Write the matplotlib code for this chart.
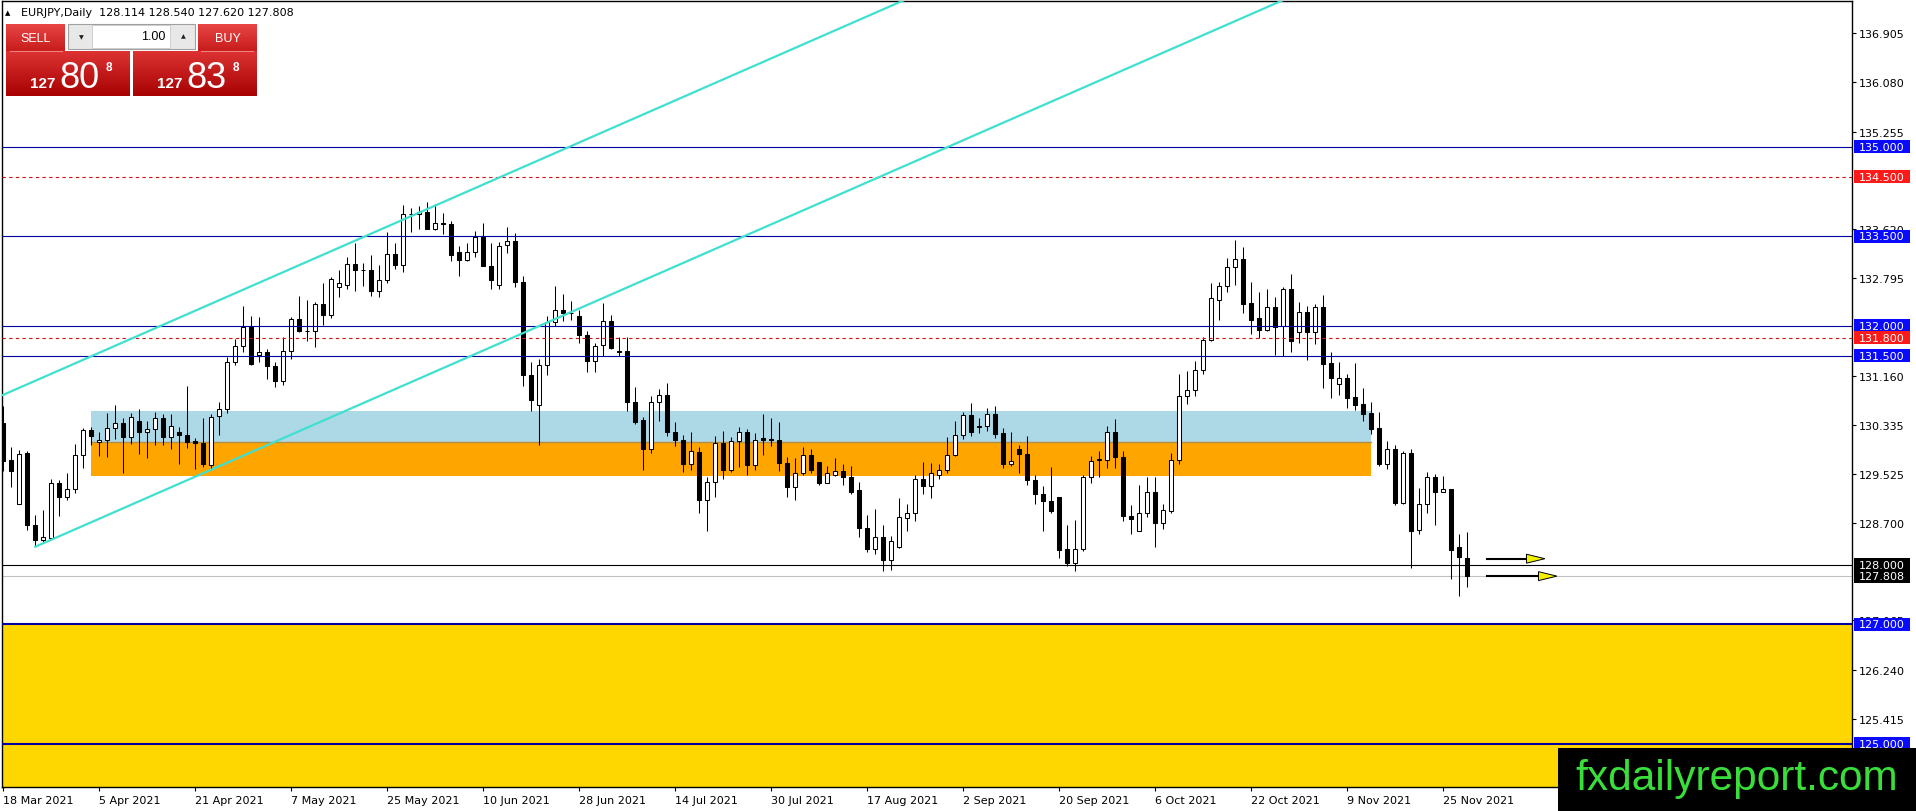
import numpy as np
import matplotlib
matplotlib.use('Agg')
import matplotlib.pyplot as plt
from matplotlib.patches import Rectangle
from matplotlib.transforms import blended_transform_factory
from matplotlib.colors import LinearSegmentedColormap

# EURJPY daily candles, 18 Mar 2021 .. 30 Nov 2021
opens = [130.37, 129.75, 129.02, 129.87, 128.67, 128.42, 128.44, 129.37, 129.13, 129.26,
         129.83, 130.25, 130.05, 130.09, 130.29, 130.37, 130.13, 130.40, 130.23, 130.27,
         130.46, 130.13, 130.22, 130.17, 130.07, 130.04, 129.67, 130.49, 130.61, 131.39,
         131.67, 131.98, 131.51, 131.57, 131.33, 131.07, 131.58, 132.11, 131.91, 131.91,
         132.36, 132.19, 132.65, 132.69, 133.03, 132.94, 132.94, 132.59, 132.76, 133.21,
         133.02, 133.87, 133.87, 133.91, 133.63, 133.72, 133.71, 133.23, 133.11, 133.23,
         133.48, 133.01, 132.69, 133.36, 133.42, 132.73, 131.18, 130.67, 131.34, 132.06,
         132.26, 132.22, 132.17, 131.84, 131.41, 131.68, 132.08, 131.58, 131.58, 130.73,
         130.42, 129.93, 130.72, 130.84, 130.23, 130.09, 129.68, 129.88, 129.08, 129.39,
         130.04, 129.59, 130.07, 130.23, 129.67, 130.12, 130.11, 130.09, 129.70, 129.30,
         129.53, 129.83, 129.72, 129.36, 129.51, 129.57, 129.46, 129.25, 128.62, 128.26,
         128.47, 128.07, 128.30, 128.78, 128.86, 129.44, 129.32, 129.51, 129.59, 129.84,
         130.18, 130.50, 130.30, 130.33, 130.52, 130.21, 129.68, 129.93, 129.86, 129.41,
         129.19, 129.06, 129.13, 128.27, 128.02, 128.27, 129.46, 129.76, 129.76, 130.22,
         129.80, 128.82, 128.57, 128.86, 129.21, 128.69, 128.90, 129.76, 130.82, 130.92,
         131.26, 131.76, 132.44, 132.67, 132.98, 133.12, 132.39, 132.13, 131.93, 132.31,
         132.00, 132.62, 131.89, 132.23, 131.89, 132.32, 131.37, 131.03, 131.13, 130.80,
         130.69, 130.54, 130.29, 129.68, 129.93, 129.04, 129.87, 128.58, 129.02, 129.46,
         129.21, 129.26, 128.29, 128.114]
highs = [130.65, 129.97, 129.92, 129.90, 128.83, 128.92, 129.44, 129.41, 129.54, 130.02,
         130.29, 130.30, 130.23, 130.54, 130.68, 130.46, 130.54, 130.60, 130.41, 130.56,
         130.52, 130.52, 130.30, 131.00, 130.12, 130.46, 130.53, 130.73, 131.47, 131.78,
         132.33, 132.17, 132.15, 131.62, 131.40, 131.82, 132.15, 132.50, 132.44, 132.40,
         132.71, 132.82, 132.93, 133.15, 133.39, 133.06, 133.18, 133.02, 133.58, 133.39,
         134.02, 133.97, 134.01, 134.08, 134.04, 133.89, 133.76, 133.33, 133.39, 133.59,
         133.72, 133.39, 133.40, 133.65, 133.56, 132.83, 131.40, 131.44, 132.17, 132.67,
         132.54, 132.41, 132.26, 131.91, 131.72, 132.39, 132.19, 131.82, 131.82, 130.98,
         130.48, 130.83, 130.94, 131.04, 130.39, 130.17, 130.23, 129.97, 129.46, 130.15,
         130.24, 130.13, 130.30, 130.28, 130.21, 130.52, 130.46, 130.39, 129.80, 129.79,
         129.97, 129.93, 129.72, 129.65, 129.78, 129.68, 129.65, 129.39, 128.83, 128.93,
         128.67, 128.48, 129.11, 129.01, 129.50, 129.72, 129.71, 129.69, 130.13, 130.40,
         130.56, 130.71, 130.46, 130.62, 130.65, 130.29, 130.23, 130.01, 130.15, 129.50,
         129.32, 129.63, 129.14, 128.67, 128.74, 129.50, 129.82, 129.90, 130.32, 130.44,
         129.91, 129.00, 129.34, 129.46, 129.46, 129.01, 129.87, 131.19, 131.24, 131.41,
         131.82, 132.72, 132.73, 133.13, 133.43, 133.32, 132.73, 132.56, 132.62, 132.48,
         132.65, 132.87, 132.40, 132.33, 132.37, 132.52, 131.57, 131.39, 131.20, 131.37,
         130.96, 130.72, 130.56, 130.07, 130.01, 129.90, 129.93, 129.29, 129.56, 129.52,
         129.49, 129.27, 128.52, 128.540]
lows = [129.57, 129.30, 129.02, 128.58, 128.31, 128.37, 128.43, 128.82, 129.09, 129.20,
        129.62, 130.01, 129.82, 129.80, 130.11, 129.54, 130.02, 129.86, 129.78, 130.01,
        130.00, 129.94, 129.68, 129.96, 129.61, 129.63, 129.59, 130.18, 130.54, 131.34,
        131.57, 131.34, 131.40, 131.11, 130.97, 131.01, 131.44, 131.89, 131.74, 131.65,
        132.01, 132.13, 132.48, 132.62, 132.59, 132.67, 132.50, 132.48, 132.72, 132.96,
        132.90, 133.57, 133.63, 133.62, 133.61, 133.54, 133.09, 132.84, 133.09, 133.15,
        133.00, 132.62, 132.61, 133.22, 132.65, 131.00, 130.58, 130.01, 131.18, 132.00,
        132.08, 132.09, 131.72, 131.22, 131.22, 131.50, 131.61, 131.50, 130.58, 130.36,
        129.58, 129.87, 130.41, 130.15, 129.98, 129.56, 129.59, 128.86, 128.57, 129.13,
        129.44, 129.56, 129.63, 129.50, 129.58, 129.84, 129.98, 129.57, 129.13, 129.09,
        129.50, 129.54, 129.34, 129.36, 129.48, 129.34, 129.19, 128.46, 128.22, 128.18,
        127.90, 127.91, 128.28, 128.56, 128.73, 129.19, 129.11, 129.44, 129.54, 129.82,
        130.11, 130.15, 130.21, 130.24, 130.12, 129.62, 129.65, 129.54, 129.34, 129.01,
        128.57, 128.87, 128.11, 127.97, 127.90, 128.23, 129.36, 129.46, 129.62, 129.62,
        128.73, 128.51, 128.57, 128.79, 128.29, 128.59, 128.87, 129.68, 130.69, 130.82,
        131.19, 131.74, 132.09, 132.56, 132.68, 132.21, 131.86, 131.80, 131.91, 131.52,
        131.50, 131.56, 131.72, 131.43, 131.69, 130.96, 130.79, 130.84, 130.62, 130.59,
        130.40, 130.19, 129.65, 129.61, 129.00, 129.02, 127.94, 128.52, 128.86, 128.67,
        129.21, 127.76, 127.47, 127.620]
closes = [129.74, 129.57, 129.86, 128.67, 128.42, 128.46, 129.37, 129.13, 129.26, 129.83,
          130.25, 130.15, 130.09, 130.29, 130.37, 130.13, 130.48, 130.23, 130.27, 130.46,
          130.13, 130.33, 130.17, 130.06, 130.03, 129.68, 130.47, 130.61, 131.39, 131.67,
          131.98, 131.36, 131.57, 131.33, 131.07, 131.58, 132.12, 131.91, 131.92, 132.36,
          132.19, 132.78, 132.71, 133.03, 132.93, 132.93, 132.59, 132.77, 133.21, 133.02,
          133.87, 133.88, 133.91, 133.63, 133.72, 133.71, 133.18, 133.11, 133.23, 133.48,
          133.01, 132.76, 133.34, 133.42, 132.73, 131.18, 130.76, 131.34, 132.06, 132.26,
          132.22, 132.21, 131.84, 131.41, 131.67, 132.08, 131.63, 131.57, 130.73, 130.39,
          129.93, 130.72, 130.84, 130.22, 130.09, 129.68, 129.90, 129.08, 129.39, 130.04,
          129.59, 130.07, 130.23, 129.67, 130.09, 130.08, 130.08, 129.70, 129.30, 129.53,
          129.83, 129.59, 129.36, 129.53, 129.57, 129.47, 129.22, 128.61, 128.26, 128.47,
          128.07, 128.39, 128.79, 128.86, 129.44, 129.32, 129.53, 129.59, 129.84, 130.18,
          130.50, 130.22, 130.33, 130.52, 130.19, 129.69, 129.74, 129.86, 129.41, 129.19,
          129.06, 128.90, 128.24, 128.02, 128.27, 129.46, 129.73, 129.77, 130.22, 129.80,
          128.82, 128.76, 128.86, 129.21, 128.69, 128.91, 129.76, 130.83, 130.92, 131.26,
          131.76, 132.47, 132.67, 132.98, 133.12, 132.37, 132.09, 131.93, 132.31, 131.98,
          132.62, 131.74, 132.23, 131.89, 132.32, 131.36, 131.12, 131.13, 130.79, 130.68,
          130.52, 130.28, 129.68, 129.93, 129.04, 129.87, 128.57, 129.02, 129.46, 129.21,
          129.26, 128.24, 128.13, 127.808]

date_labels = ['18 Mar 2021', '5 Apr 2021', '21 Apr 2021', '7 May 2021', '25 May 2021',
               '10 Jun 2021', '28 Jun 2021', '14 Jul 2021', '30 Jul 2021', '17 Aug 2021',
               '2 Sep 2021', '20 Sep 2021', '6 Oct 2021', '22 Oct 2021', '9 Nov 2021',
               '25 Nov 2021']
bars_per_label = 12
# 134.430, 131.970 and 127.875 sit fully under the level labels in the original
price_ticks = [136.905, 136.080, 135.255, 133.620, 132.795, 131.160,
               130.335, 129.525, 128.700, 127.065, 126.240, 125.415]

blue_levels = [135.0, 133.5, 132.0, 131.5, 127.0, 125.0]
red_levels = [134.5, 131.8]
black_level = 128.0
bid_price = 127.808

zone_blue = (130.05, 130.58)
zone_orange = (129.48, 130.05)
zone_bars = (11, 171)
gold_zone_top = 127.0

channel_anchor = (4, 128.30)
channel_slope = 0.0587
channel_width = 2.78

arrow_prices = [128.10, 127.808]
arrow_start = 185.5
arrow_tips = [192.7, 194.2]

header = 'EURJPY,Daily  128.114 128.540 127.620 127.808'

# ------------------------------------------------------------------
W, H = 1916, 812
fig = plt.figure(figsize=(W / 100, H / 100), dpi=100)
ax = fig.add_axes([2 / W, (H - 788.3) / H, 1850 / W, 786.3 / H])
ax.set_xlim(-0.1625, 231.09)
ax.set_ylim(124.271, 137.441)

o = np.array(opens); h = np.array(highs); l = np.array(lows); c = np.array(closes)
x = np.arange(len(o))
up = c >= o

# zones
ax.axhspan(100, gold_zone_top, color='#ffd700', lw=0, zorder=1)
ax.add_patch(Rectangle((zone_bars[0], zone_blue[0]), zone_bars[1] - zone_bars[0],
                       zone_blue[1] - zone_blue[0], fc='#add8e6', ec='none', zorder=1))
ax.add_patch(Rectangle((zone_bars[0], zone_orange[0]), zone_bars[1] - zone_bars[0],
                       zone_orange[1] - zone_orange[0], fc='#ffa500', ec='none', zorder=1))
ax.plot(zone_bars, [zone_orange[1]] * 2, color='#b09048', lw=1, zorder=1.2)

# candles
ax.vlines(x, l, h, color='black', lw=0.75, zorder=3)
ax.bar(x[up], (c - o)[up], bottom=o[up], width=0.5, color='white',
       edgecolor='black', lw=0.75, zorder=3.5)
ax.bar(x[~up], (c - o)[~up], bottom=o[~up], width=0.5, color='black',
       edgecolor='black', lw=0.75, zorder=3.5)

# horizontal levels
for lv in blue_levels:
    ax.axhline(lv, color='#00009c', lw=1.5 if lv < black_level else 0.8, zorder=4)
for lv in red_levels:
    ax.axhline(lv, color='#d01010', lw=0.8, ls=(0, (3, 3)), zorder=4)
ax.axhline(black_level, color='black', lw=0.8, zorder=4)
ax.axhline(bid_price, color='#c0c0c0', lw=0.8, zorder=2)

# channel
x0, x1 = ax.get_xlim()
xs = np.array([x0, x1 + 100])
ax.plot(xs, channel_anchor[1] + channel_width + channel_slope * (xs - channel_anchor[0]),
        color='#40e0d0', lw=1.6, zorder=4)
xs2 = np.array([channel_anchor[0], x1 + 200])
ax.plot(xs2, channel_anchor[1] + channel_slope * (xs2 - channel_anchor[0]),
        color='#40e0d0', lw=1.6, zorder=4)

# arrows
for py, tip in zip(arrow_prices, arrow_tips):
    ax.plot([arrow_start, tip - 2.2], [py, py], color='black', lw=1.5, zorder=5)
    ax.fill([tip - 2.3, tip, tip - 2.3], [py + 0.075, py, py - 0.075],
            fc='#f2f200', ec='black', lw=0.7, zorder=6)

# axes styling
ax.set_facecolor('white')
for s in ax.spines.values():
    s.set_color('black'); s.set_linewidth(1)
ax.yaxis.tick_right()
ax.set_yticks(price_ticks)
ax.set_yticklabels(['%.3f' % t for t in price_ticks])
ax.tick_params(axis='y', length=3, width=0.8, pad=2, labelsize=8, colors='black')
ax.set_xticks(np.arange(len(date_labels)) * bars_per_label)
ax.set_xticklabels(date_labels)
for lab in ax.get_xticklabels():
    lab.set_ha('left')
ax.tick_params(axis='x', length=3, width=0.8, pad=2.5, labelsize=8)

# price labels on the right
tr = blended_transform_factory(ax.transAxes, ax.transData)
labels = [(lv, '#0a0aff') for lv in blue_levels] + [(lv, '#ff1a1a') for lv in red_levels]
labels += [(black_level, 'black'), (bid_price, 'black')]
box_h = 13 / 59.7
for lv, col in labels:
    ax.add_patch(Rectangle((1.0011, lv - box_h / 2), 0.0303, box_h, transform=tr,
                           fc=col, ec='none', clip_on=False, zorder=20))
    ax.text(1.0162, lv, '%.3f' % lv, transform=tr, ha='center', va='center',
            color='white', fontsize=8, clip_on=False, zorder=21)

# overlay in pixel coordinates: trade panel, header, watermark
ov = fig.add_axes([0, 0, 1, 1], zorder=10)
ov.set_facecolor('none')
ov.axis('off')


def grad(x0, y0, x1, y1, top, bot):
    g = np.linspace(0, 1, 64)[:, None]
    cm = LinearSegmentedColormap.from_list('g', [top, bot])
    ov.imshow(g, cmap=cm, extent=[x0, x1, y1, y0], aspect='auto',
              interpolation='bilinear', zorder=1)


ov.text(8, 13, '\u25b2', fontsize=5, ha='center', va='center', color='black')
ov.text(21, 13, header, fontsize=8, ha='left', va='center', color='black')

# buttons
grad(6, 25, 65, 52, '#e84545', '#c81c1c')
grad(198, 25, 257, 52, '#e84545', '#c81c1c')
grad(6, 52, 130, 97, '#dc3232', '#a80202')
grad(133, 52, 257, 97, '#dc3232', '#a80202')
ov.plot([10, 62], [52, 52], color='#f08080', lw=0.8, zorder=2)
ov.plot([201, 253], [52, 52], color='#f08080', lw=0.8, zorder=2)
ov.text(35.5, 38.5, 'SELL', fontsize=9, color='white', ha='center', va='center',
        family='Liberation Sans', zorder=3)
ov.text(227.5, 38.5, 'BUY', fontsize=9, color='white', ha='center', va='center',
        family='Liberation Sans', zorder=3)

# lot spinner
ov.add_patch(Rectangle((68, 25), 127, 25, fc='#e8e8e8', ec='#a0a0a0', lw=0.8, zorder=2))
ov.add_patch(Rectangle((92, 26), 78, 23, fc='white', ec='#c8c8c8', lw=0.6, zorder=2))
ov.text(81, 38, '\u25bc', fontsize=4.5, ha='center', va='center', color='#202020', zorder=3)
ov.text(183, 37, '\u25b2', fontsize=4.5, ha='center', va='center', color='#202020', zorder=3)
ov.text(165, 37.5, '1.00', fontsize=9, ha='right', va='center', color='black',
        family='Liberation Sans', zorder=3)

for bx, big in [(30, '80'), (157, '83')]:
    ov.text(bx, 88, '127', fontsize=11, weight='bold', color='white', ha='left',
            va='baseline', family='Liberation Sans', zorder=3)
    ov.text(bx + 29, 88, big, fontsize=26, color='white', ha='left', va='baseline',
            family='Liberation Sans', zorder=3)
    ov.text(bx + 76, 71, '8', fontsize=8.5, weight='bold', color='white', ha='left',
            va='baseline', family='Liberation Sans', zorder=3)

# watermark
ov.add_patch(Rectangle((1558, 749), W - 1558, H - 749, fc='black', ec='none', zorder=2))
ov.text(1736.5, 790, 'fxdailyreport.com', fontsize=30.5, color='#3ade3a',
        ha='center', va='baseline', family='Liberation Sans', zorder=3)

ov.set_xlim(0, W)
ov.set_ylim(H, 0)

fig.savefig('out.png', dpi=100, facecolor='white')
